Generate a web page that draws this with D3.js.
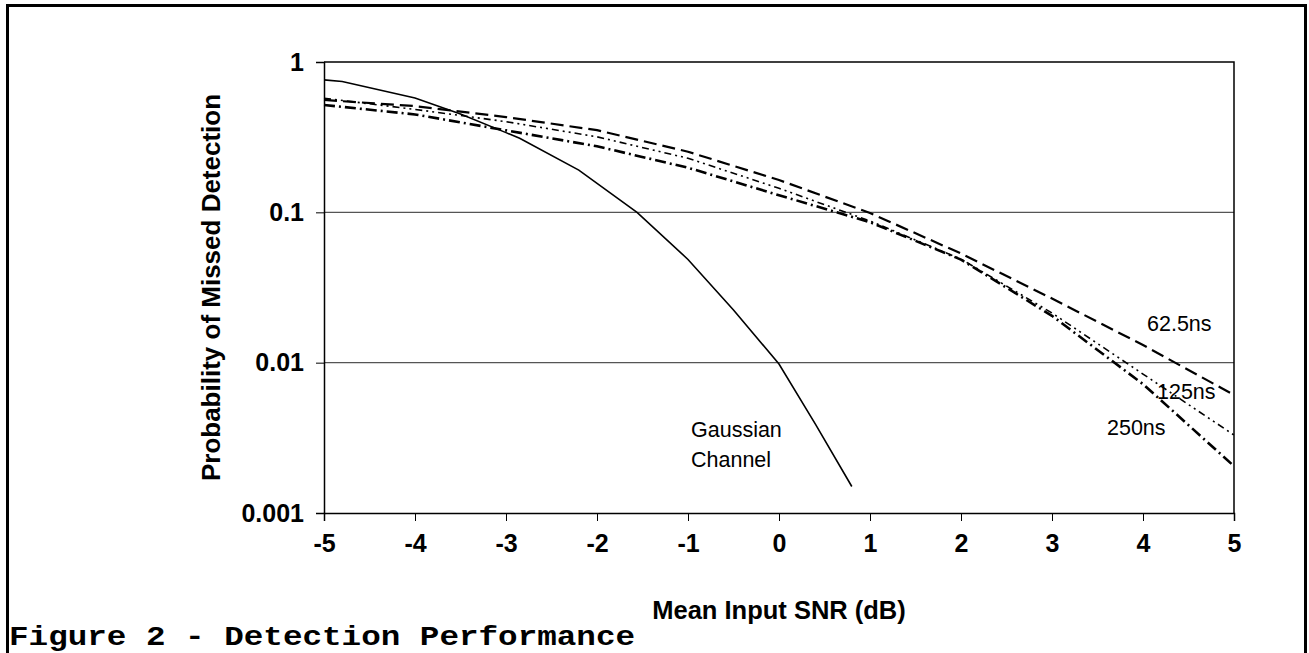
<!DOCTYPE html>
<html>
<head>
<meta charset="utf-8">
<script src="https://cdn.jsdelivr.net/npm/d3@7"></script>
<style>
  body { margin: 0; background: #fff; }
  svg { display: block; }
  .tick-lbl { font-family: "Liberation Sans", Arial, sans-serif; font-weight: bold; font-size: 25px; fill: #000; }
  .title-lbl { font-family: "Liberation Sans", Arial, sans-serif; font-weight: bold; font-size: 25.5px; fill: #000; }
  .note { font-family: "Liberation Sans", Arial, sans-serif; font-size: 21.5px; fill: #000; }
  .caption { font-family: "Liberation Mono", "Courier New", monospace; font-weight: bold; font-size: 28px; fill: #000; }
</style>
</head>
<body>
<svg id="chart" width="1309" height="653"></svg>
<script>
// x values (dB) shared by the three delay-spread curves
let snr = [-5, -4, -3, -2, -1, 0, 1, 2, 3, 4, 5];
let p62 = [0.559, 0.509, 0.430, 0.352, 0.253, 0.164, 0.099, 0.0532, 0.0267, 0.0131, 0.0061];
let p125 = [0.574, 0.484, 0.401, 0.318, 0.229, 0.1445, 0.0876, 0.0489, 0.0214, 0.0084, 0.0033];
let p250 = [0.518, 0.448, 0.351, 0.275, 0.198, 0.130, 0.086, 0.0485, 0.0205, 0.0072, 0.00205];

// gaussian channel curve
let gaussSnr = [-5, -4.8, -4, -3.5, -3, -2.85, -2.2, -1.56, -1, -0.5, 0, 0.4, 0.8];
let gaussP = [0.76, 0.742, 0.576, 0.451, 0.339, 0.311, 0.191, 0.1, 0.0486, 0.0224, 0.0098, 0.0039, 0.0015];

let xTicks = [-5, -4, -3, -2, -1, 0, 1, 2, 3, 4, 5];
let yTicks = [1, 0.1, 0.01, 0.001];
let yTickLabels = ["1", "0.1", "0.01", "0.001"];

let svg = d3.select("#chart");

// outer frame of the figure
svg.append("rect")
  .attr("x", 7.5).attr("y", 5.5)
  .attr("width", 1298).attr("height", 700)
  .attr("fill", "none")
  .attr("stroke", "#000")
  .attr("stroke-width", 3);

let plotL = 324, plotR = 1234, plotT = 62, plotB = 513;

let x = d3.scaleLinear().domain([-5, 5]).range([plotL, plotR]);
let y = d3.scaleLog().domain([0.001, 1]).range([plotB, plotT]);

// gridlines
svg.append("g").selectAll("line")
  .data([0.1, 0.01])
  .enter().append("line")
  .attr("x1", plotL).attr("x2", plotR)
  .attr("y1", d => y(d)).attr("y2", d => y(d))
  .attr("stroke", "#555")
  .attr("stroke-width", 1.3);

// plot border top + right
svg.append("path")
  .attr("d", "M" + plotL + "," + plotT + "H" + plotR + "V" + plotB)
  .attr("fill", "none")
  .attr("stroke", "#000")
  .attr("stroke-width", 1.5);

// x axis
let xAxis = svg.append("g")
  .attr("transform", "translate(0," + plotB + ")")
  .call(d3.axisBottom(x).tickValues(xTicks).tickSize(8).tickPadding(13).tickFormat(d => String(d)));
xAxis.select(".domain").attr("stroke", "#000").attr("stroke-width", 1.5);
xAxis.selectAll("text").attr("class", "tick-lbl").attr("font-size", null).attr("font-family", null);

// y axis
let yAxis = svg.append("g")
  .attr("transform", "translate(" + plotL + ",0)")
  .call(d3.axisLeft(y).tickValues(yTicks).tickSize(8).tickPadding(12).tickFormat((d, i) => yTickLabels[i]));
yAxis.select(".domain").attr("stroke", "#000").attr("stroke-width", 1.5);
yAxis.selectAll("text").attr("class", "tick-lbl").attr("font-size", null).attr("font-family", null);

// axis titles
svg.append("text")
  .attr("class", "title-lbl")
  .attr("x", (plotL + plotR) / 2)
  .attr("y", 619)
  .attr("text-anchor", "middle")
  .text("Mean Input SNR (dB)");

svg.append("text")
  .attr("class", "title-lbl")
  .style("font-size", "26px")
  .attr("transform", "translate(220," + ((plotT + plotB) / 2) + ") rotate(-90)")
  .attr("text-anchor", "middle")
  .text("Probability of Missed Detection");

let line = d3.line()
  .x(d => x(d[0]))
  .y(d => y(d[1]));

let curves = [
  { vals: p62, dash: "13,6", width: 2.2 },
  { vals: p125, dash: "7,4,2,4,2,4", width: 1.6 },
  { vals: p250, dash: "11,4,2,4", width: 2.6 }
];

svg.append("g").selectAll("path")
  .data(curves)
  .enter().append("path")
  .attr("d", c => line(snr.map((s, i) => [s, c.vals[i]])))
  .attr("fill", "none")
  .attr("stroke", "#000")
  .attr("stroke-width", c => c.width)
  .attr("stroke-dasharray", c => c.dash);

svg.append("path")
  .attr("d", line(gaussSnr.map((s, i) => [s, gaussP[i]])))
  .attr("fill", "none")
  .attr("stroke", "#000")
  .attr("stroke-width", 1.6);

// annotations
let notes = [
  { t: "Gaussian", x: 691, y: 437 },
  { t: "Channel", x: 691, y: 467 },
  { t: "62.5ns", x: 1147, y: 331 },
  { t: "125ns", x: 1157, y: 399 },
  { t: "250ns", x: 1107, y: 435 }
];
svg.append("g").selectAll("text")
  .data(notes)
  .enter().append("text")
  .attr("class", "note")
  .attr("x", d => d.x)
  .attr("y", d => d.y)
  .text(d => d.t);

svg.append("text")
  .attr("class", "caption")
  .attr("x", 9)
  .attr("y", 645)
  .attr("textLength", 626)
  .attr("lengthAdjust", "spacingAndGlyphs")
  .text("Figure 2 - Detection Performance");
</script>
</body>
</html>
